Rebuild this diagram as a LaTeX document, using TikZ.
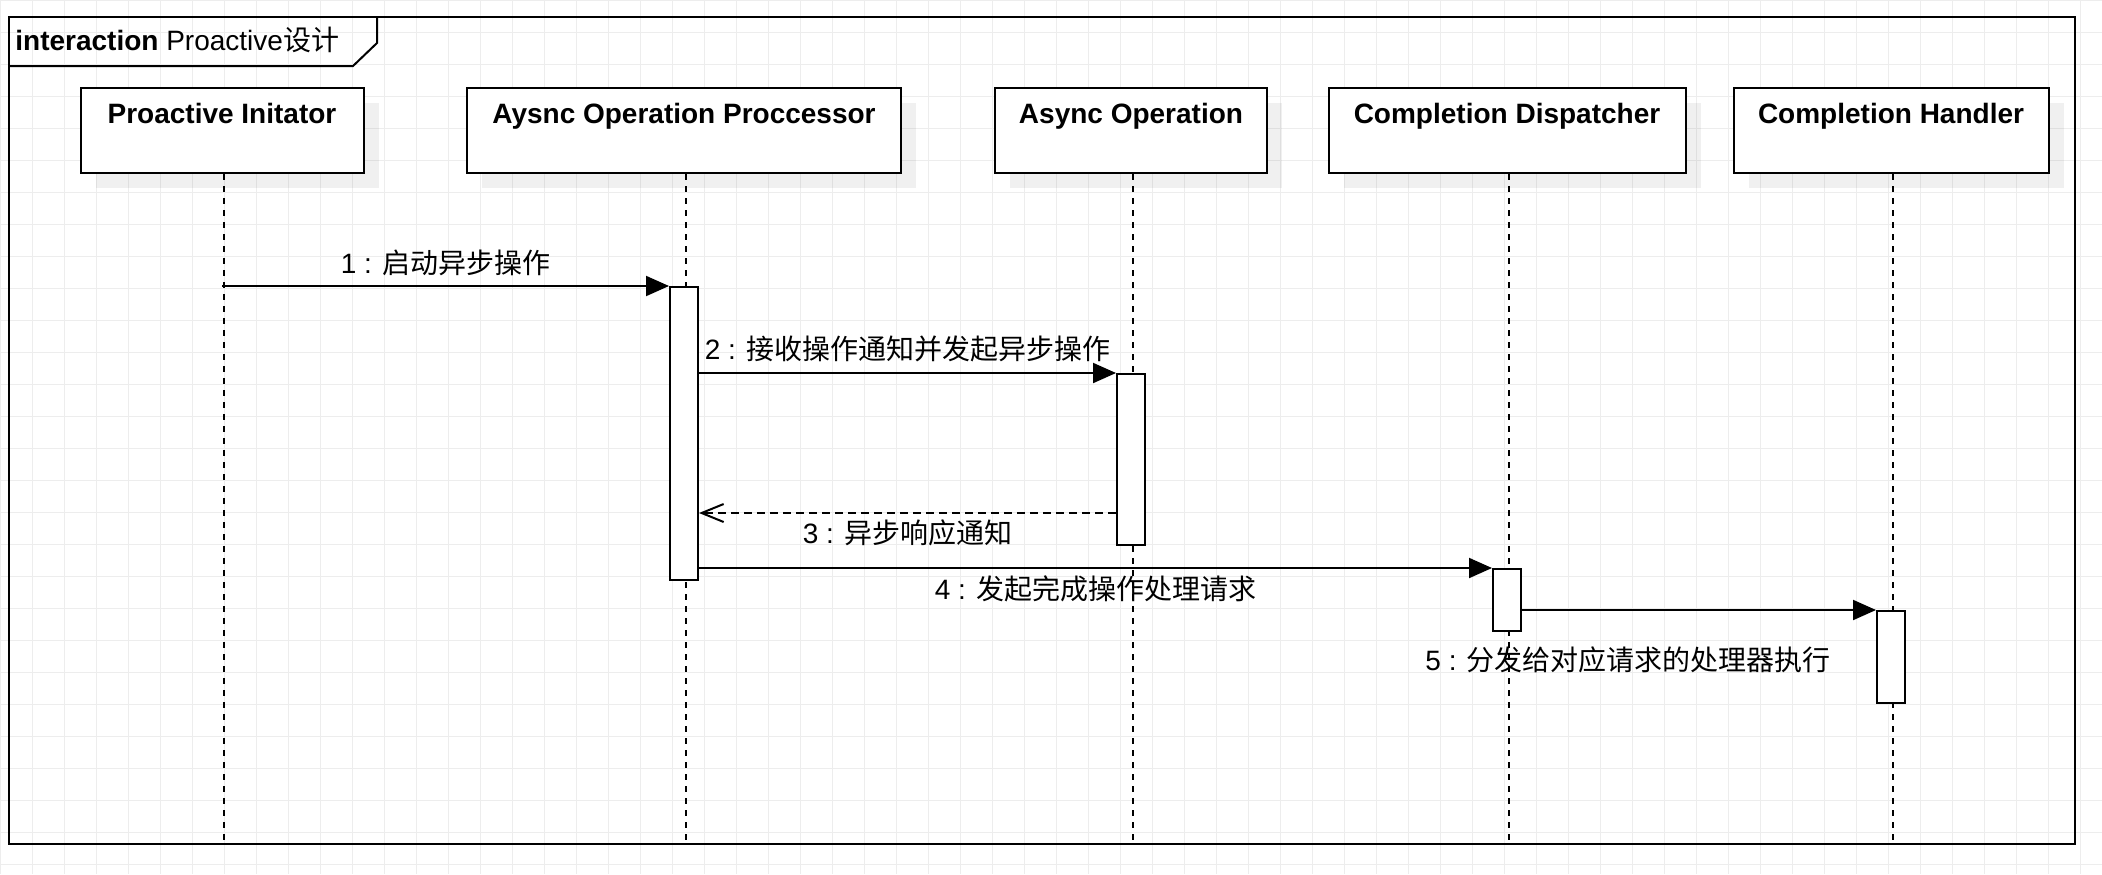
\documentclass[tikz,border=0pt]{standalone}
\usepackage{fontspec}
\setmainfont{Liberation Sans}
\newfontfamily\cjk{Noto Sans CJK SC}
\usetikzlibrary{arrows.meta,shadows}

\tikzset{
  gridline/.style={line width=0.5pt, color=black!7},
  head/.style={draw, line width=1pt, fill=white, inner sep=0pt,
    minimum width=#1, minimum height=42.5pt,
    drop shadow={shadow xshift=7.5pt, shadow yshift=-7.5pt, fill=black, opacity=0.06}},
  headtext/.style={font=\fontsize{14pt}{17pt}\selectfont\bfseries, inner sep=0pt, anchor=base},
  lifeline/.style={line width=1pt, dash pattern=on 3pt off 3pt},
  act/.style={draw, line width=1pt, fill=white, inner sep=0pt,
    minimum width=14pt, minimum height=#1},
  msg/.style={line width=1pt, -{Triangle[length=11.5pt,width=10pt]}},
  reply/.style={line width=1pt, dash pattern=on 4pt off 2.5pt,
    -{Straight Barb[length=11pt,width=9pt]}},
  msgtext/.style={inner sep=0pt}
}

\begin{document}
\begin{tikzpicture}[x=0.5pt, y=-0.5pt, font=\fontsize{14pt}{17pt}\selectfont]
  \useasboundingbox (0,0) rectangle (2102,874);

  % Background grid
  \foreach \gx in {0,32,...,2102}
    \draw[gridline] (\gx,0) -- (\gx,874);
  \foreach \gy in {0,32,...,874}
    \draw[gridline] (0,\gy) -- (2102,\gy);

  % Interaction frame with its name tab
  \draw[line width=1pt] (9,17) rectangle (2075,844);
  \draw[line width=1pt] (9,66) -- (353,66) -- (377,43) -- (377,17);
  \node[anchor=base west, inner sep=0pt] (title) at (15,50)
    {\textbf{interaction} Proactive{\cjk 设计}};
  \coordinate (bottom) at (0,844);

  % Lifeline heads
  \node[head=141.5pt] (p1) at (222,130.5) {};
  \node[head=217pt]   (p2) at (684,130.5) {};
  \node[head=136pt]   (p3) at (1131,130.5) {};
  \node[head=178.5pt] (p4) at (1507,130.5) {};
  \node[head=157.5pt] (p5) at (1891,130.5) {};

  \node[headtext] (t1) at ([yshift=-18pt]p1.north) {Proactive Initator};
  \node[headtext] (t2) at ([yshift=-18pt]p2.north) {Aysnc Operation Proccessor};
  \node[headtext] (t3) at ([yshift=-18pt]p3.north) {Async Operation};
  \node[headtext] (t4) at ([yshift=-18pt]p4.north) {Completion Dispatcher};
  \node[headtext] (t5) at ([yshift=-18pt]p5.north) {Completion Handler};

  % Dashed lifelines
  \foreach \p in {p1,p2,p3,p4,p5}
    \draw[lifeline] ([xshift=1pt]\p.south) -- ([xshift=1pt]\p |- bottom);

  % Activation bars
  \node[act=146.5pt] (a2) at (684,433.5) {};
  \node[act=85.5pt]  (a3) at (1131,459.5) {};
  \node[act=31pt]    (a4) at (1507,600) {};
  \node[act=46pt]    (a5) at (1891,657) {};

  % Messages
  \draw[msg] (a2.north west -| p1) -- (a2.north west)
    node[msgtext, midway, yshift=11.5pt] (l1) {1 : {\cjk 启动异步操作}};
  \draw[msg] (a3.north west -| a2.east) -- (a3.north west)
    node[msgtext, midway, yshift=12pt] (l2) {2 : {\cjk 接收操作通知并发起异步操作}};
  \coordinate (r3) at ([yshift=16.5pt]a3.south west);
  \draw[reply] (r3) -- (r3 -| a2.east)
    node[msgtext, midway, yshift=-10pt] (l3) {3 : {\cjk 异步响应通知}};
  \draw[msg] (a4.north west -| a2.east) -- (a4.north west)
    node[msgtext, midway, yshift=-10.5pt] (l4) {4 : {\cjk 发起完成操作处理请求}};
  \draw[msg] (a5.north west -| a4.east) -- (a5.north west)
    node[msgtext, pos=0.3, yshift=-25pt] (l5) {5 : {\cjk 分发给对应请求的处理器执行}};
\end{tikzpicture}
\end{document}
